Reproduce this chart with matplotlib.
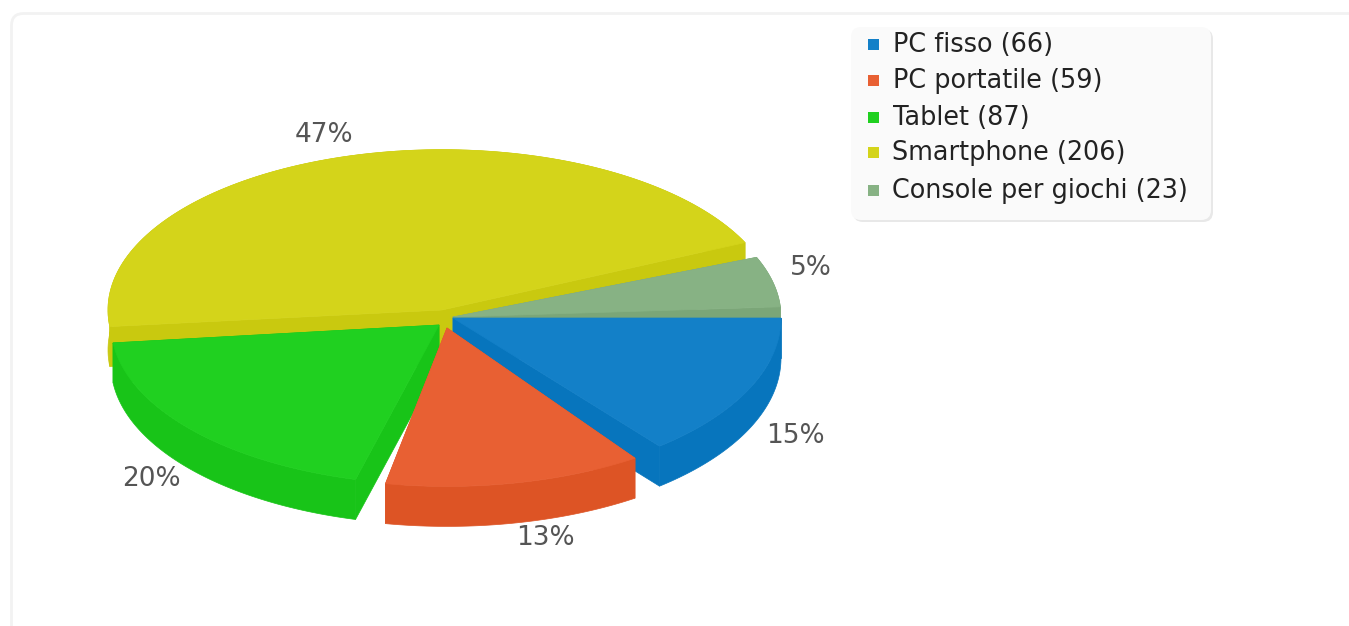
import matplotlib
matplotlib.use("Agg")
import matplotlib.pyplot as plt
from matplotlib.patches import FancyBboxPatch, Polygon, Rectangle
import numpy as np

# data, from the legend
names = ["PC fisso", "PC portatile", "Tablet", "Smartphone", "Console per giochi"]
values = [66, 59, 87, 206, 23]

# look of each slice
top_colors = ["#1380C8", "#E86033", "#20D020", "#D4D41A", "#87B284"]
wall_colors = ["#0775BD", "#DD5425", "#18C418", "#C9C90F", "#7BA678"]
apex_x = [453, 447, 439, 442, 453]
apex_y = [318, 328, 325, 310, 317]
radius_x = [328, 330, 328, 334, 328]
squash = [0.503, 0.48, 0.487, 0.48, 0.48]
# the original 3d renderer bends the slice edges a little
start_adj = [0, 1.4, 2.7, 1, -3.5]
end_adj = [-2.9, -1.3, 0.5, -6.1, -3.7]
label_x = [795, 545, 151, 324, 811]
label_y = [436, 538, 479, 135, 268]
legend_x = [893, 893, 893, 892, 892]
legend_y = [45, 81, 118, 153, 191]
draw_order = [3, 4, 0, 2, 1]

depth = 40

fig = plt.figure(figsize=(13.49, 6.26), dpi=100)
ax = fig.add_axes([0, 0, 1, 1])
ax.set_xlim(0, 1349)
ax.set_ylim(626, 0)
ax.axis("off")

# card behind the chart
ax.add_patch(FancyBboxPatch((11.5, 13.5), 1400, 700, boxstyle="round,pad=0,rounding_size=12",
                            fc="white", ec="#f2f2f2", lw=2))

total = float(sum(values))
edges = np.cumsum([0] + values) / total * 360

for i in draw_order:
    t = np.radians(np.linspace(edges[i] + start_adj[i], edges[i + 1] + end_adj[i], 120))
    x = apex_x[i] + radius_x[i] * np.cos(t)
    y = apex_y[i] + radius_x[i] * squash[i] * np.sin(t)
    # outer rim
    rim = np.column_stack([np.r_[x, x[::-1]], np.r_[y, y[::-1] + depth]])
    ax.add_patch(Polygon(rim, fc=wall_colors[i], ec=wall_colors[i], lw=0.5))
    # the two cut faces
    for k in [0, -1]:
        wall = [(apex_x[i], apex_y[i]), (x[k], y[k]), (x[k], y[k] + depth), (apex_x[i], apex_y[i] + depth)]
        ax.add_patch(Polygon(wall, fc=wall_colors[i], ec=wall_colors[i], lw=0.5))
    top = np.column_stack([np.r_[apex_x[i], x], np.r_[apex_y[i], y]])
    ax.add_patch(Polygon(top, fc=top_colors[i], ec=top_colors[i], lw=0.5))
    pct = "%d%%" % round(values[i] / total * 100)
    ax.text(label_x[i], label_y[i], pct, fontsize=19, color="#555555", ha="center", va="center")

# legend box
ax.add_patch(FancyBboxPatch((853, 29), 360, 193, boxstyle="round,pad=0,rounding_size=10",
                            fc="#e8e8e8", ec="none"))
ax.add_patch(FancyBboxPatch((851, 27), 360, 193, boxstyle="round,pad=0,rounding_size=10",
                            fc="#fafafa", ec="none"))
for i in range(len(names)):
    ax.add_patch(Rectangle((868, legend_y[i] - 6), 11, 11, fc=top_colors[i], ec="none"))
    ax.text(legend_x[i], legend_y[i], "%s (%d)" % (names[i], values[i]), fontsize=18.4, color="#222222",
            ha="left", va="center")

fig.savefig("out.png", dpi=100)
